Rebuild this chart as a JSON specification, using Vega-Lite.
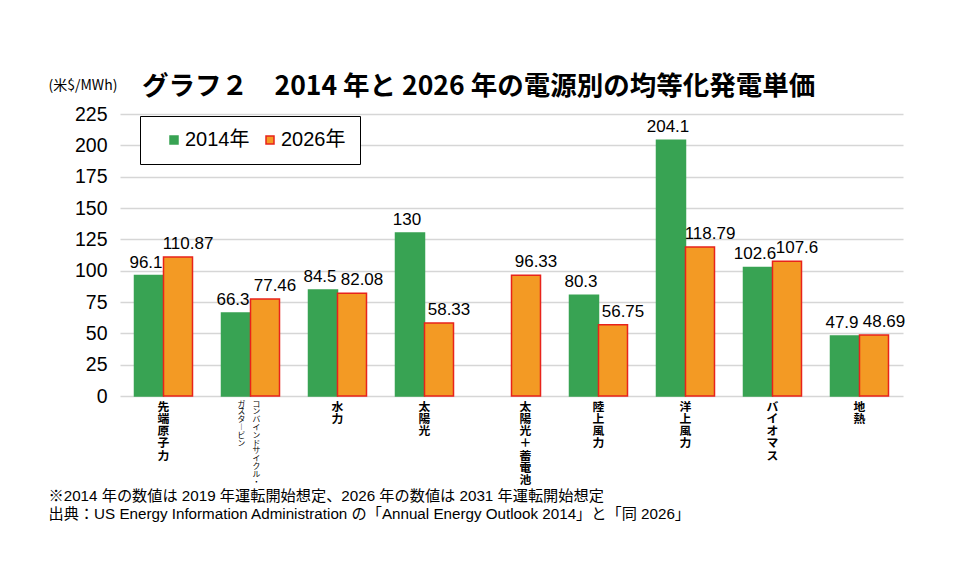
{
  "$schema": "https://vega.github.io/schema/vega-lite/v6.json",
  "width": 783,
  "height": 282,
  "autosize": {"type": "none"},
  "padding": {"left": 120, "top": 114, "right": 64, "bottom": 178},
  "background": "white",
  "config": {"view": {"stroke": null}, "font": "Noto Sans CJK JP"},
  "title": {
    "text": "グラフ２　2014 年と 2026 年の電源別の均等化発電単価",
    "anchor": "start",
    "frame": "group",
    "dx": 22,
    "dy": 35,
    "offset": 13,
    "fontSize": 26.5,
    "fontWeight": "bold",
    "font": "Noto Sans CJK JP",
    "color": "black"
  },
  "data": {
    "values": [
      {"source": "先端原子力", "year": "2014年", "value": 96.1},
      {"source": "先端原子力", "year": "2026年", "value": 110.87},
      {"source": "コンバインドサイクル・ガスタービン", "year": "2014年", "value": 66.3},
      {"source": "コンバインドサイクル・ガスタービン", "year": "2026年", "value": 77.46},
      {"source": "水力", "year": "2014年", "value": 84.5},
      {"source": "水力", "year": "2026年", "value": 82.08},
      {"source": "太陽光", "year": "2014年", "value": 130},
      {"source": "太陽光", "year": "2026年", "value": 58.33},
      {"source": "太陽光＋蓄電池", "year": "2026年", "value": 96.33},
      {"source": "陸上風力", "year": "2014年", "value": 80.3},
      {"source": "陸上風力", "year": "2026年", "value": 56.75},
      {"source": "洋上風力", "year": "2014年", "value": 204.1},
      {"source": "洋上風力", "year": "2026年", "value": 118.79},
      {"source": "バイオマス", "year": "2014年", "value": 102.6},
      {"source": "バイオマス", "year": "2026年", "value": 107.6},
      {"source": "地熱", "year": "2014年", "value": 47.9},
      {"source": "地熱", "year": "2026年", "value": 48.69}
    ]
  },
  "resolve": {"axis": {"x": "independent"}},
  "encoding": {
    "xOffset": {"field": "year", "type": "nominal", "scale": {"domain": ["2014年", "2026年"]}},
    "y": {
      "field": "value",
      "type": "quantitative",
      "scale": {"domain": [0, 225], "nice": false},
      "axis": {
        "values": [0, 25, 50, 75, 100, 125, 150, 175, 200, 225],
        "domain": false,
        "ticks": false,
        "grid": true,
        "gridColor": "#d6d6d6",
        "gridWidth": 1.5,
        "labelFont": "Liberation Sans",
        "labelFontSize": 19.5,
        "labelColor": "black",
        "labelPadding": 13,
        "title": "(米$/MWh)",
        "titleAngle": 0,
        "titleX": -72,
        "titleY": -29,
        "titleAlign": "left",
        "titleBaseline": "middle",
        "titleFont": "Noto Sans CJK JP",
        "titleFontSize": 14,
        "titleFontWeight": "normal",
        "titleColor": "black"
      }
    }
  },
  "layer": [
    {
      "mark": {"type": "bar", "strokeWidth": 1.5},
      "encoding": {
        "x": {
          "field": "source",
          "type": "nominal",
          "scale": {
            "domain": ["先端原子力", "コンバインドサイクル・ガスタービン", "水力", "太陽光", "太陽光＋蓄電池", "陸上風力", "洋上風力", "バイオマス", "地熱"],
            "paddingInner": 0.3333,
            "paddingOuter": 0.1667
          },
          "axis": {
            "orient": "bottom",
            "domain": false,
            "ticks": false,
            "labelAngle": 0,
            "labelExpr": "datum.value == 'コンバインドサイクル・ガスタービン' ? '' : split(datum.label, '')",
            "labelFont": "Noto Sans CJK JP",
            "labelFontWeight": "bold",
            "labelFontSize": 11.8,
            "labelLineHeight": 12.3,
            "labelColor": "black",
            "labelPadding": 5,
            "labelBaseline": "top",
            "labelLimit": 0,
            "labelOffset": {"condition": {"test": "datum.value == '太陽光＋蓄電池'", "value": 14}, "value": 0},
            "title": [
              "※2014 年の数値は 2019 年運転開始想定、2026 年の数値は 2031 年運転開始想定",
              "出典：US Energy Information Administration の「Annual Energy Outlook 2014」と「同 2026」"
            ],
            "titleX": -72,
            "titleY": 104,
            "titleAlign": "left",
            "titleBaseline": "alphabetic",
            "titleFont": "Liberation Sans, Noto Sans CJK JP",
            "titleFontSize": 15.2,
            "titleFontWeight": "normal",
            "titleLineHeight": 18,
            "titleColor": "black"
          }
        },
        "fill": {
          "field": "year",
          "type": "nominal",
          "scale": {"domain": ["2014年", "2026年"], "range": ["#38a353", "#f39a24"]},
          "legend": {
            "orient": "none",
            "legendX": 20,
            "legendY": 2,
            "direction": "horizontal",
            "title": null,
            "strokeColor": "black",
            "fillColor": "white",
            "padding": 14,
            "symbolOffset": 10,
            "symbolType": "square",
            "symbolSize": 64,
            "symbolStrokeWidth": 1.5,
            "labelFont": "Liberation Sans, Noto Sans CJK JP",
            "labelFontSize": 20,
            "labelColor": "black",
            "labelOffset": 1,
            "columnPadding": 0
          }
        },
        "stroke": {
          "field": "year",
          "type": "nominal",
          "scale": {"domain": ["2014年", "2026年"], "range": ["#38a353", "#e8231b"]}
        }
      }
    },
    {
      "transform": [{"filter": "datum.year == '2014年'"}],
      "mark": {"type": "text", "baseline": "alphabetic", "dy": -8, "dx": -3, "fontSize": 17, "font": "Liberation Sans", "color": "black"},
      "encoding": {
        "x": {
          "field": "source",
          "type": "nominal",
          "axis": {
            "orient": "bottom",
            "domain": false,
            "ticks": false,
            "labelAngle": 0,
            "labelExpr": "datum.value == 'コンバインドサイクル・ガスタービン' ? ['コ','ン','バ','イ','ン','ド','サ','イ','ク','ル','・'] : ''",
            "labelFont": "Noto Sans CJK JP",
            "labelFontSize": 7.8,
            "labelLineHeight": 7.8,
            "labelColor": "black",
            "labelPadding": 4,
            "labelBaseline": "top",
            "labelLimit": 0,
            "labelOffset": 6,
            "title": null
          }
        },
        "text": {"field": "value", "type": "nominal"}
      }
    },
    {
      "transform": [{"filter": "datum.year == '2026年'"}],
      "mark": {"type": "text", "baseline": "alphabetic", "dy": -8, "dx": 10, "fontSize": 17, "font": "Liberation Sans", "color": "black"},
      "encoding": {
        "x": {
          "field": "source",
          "type": "nominal",
          "axis": {
            "orient": "bottom",
            "domain": false,
            "ticks": false,
            "labelAngle": 0,
            "labelExpr": "datum.value == 'コンバインドサイクル・ガスタービン' ? ['ガ','ス','タ','︱','ビ','ン'] : ''",
            "labelFont": "Noto Sans CJK JP",
            "labelFontSize": 7.8,
            "labelLineHeight": 7.8,
            "labelColor": "black",
            "labelPadding": 4,
            "labelBaseline": "top",
            "labelLimit": 0,
            "labelOffset": -9,
            "title": null
          }
        },
        "text": {"field": "value", "type": "nominal"}
      }
    }
  ]
}
